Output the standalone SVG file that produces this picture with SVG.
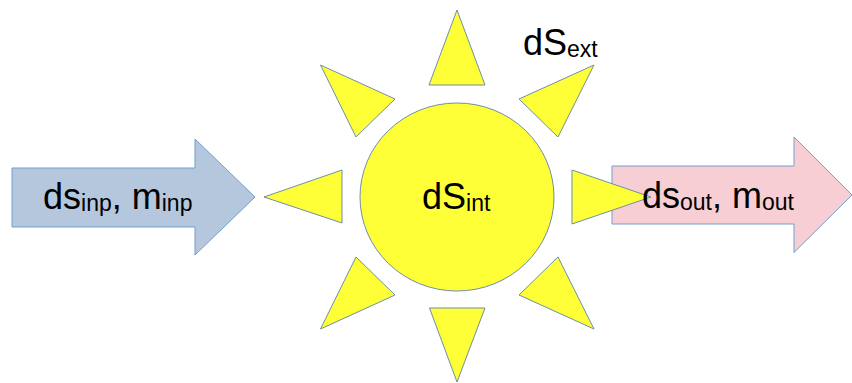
<svg xmlns="http://www.w3.org/2000/svg" width="852" height="383" viewBox="0 0 852 383">
<style>
.s{stroke:#729fcf;stroke-width:1;stroke-linejoin:miter}
.y{fill:#ffff38;stroke:#6d8fa8}
text{font-family:"Liberation Sans",Arial,sans-serif;font-size:36px;fill:#000}
.b{font-size:23px}
</style>
<rect width="852" height="383" fill="#fff"/>
<g id="arrow-inp"><polygon class="s" fill="#b4c7dc" points="12,168 195,168 195,139 255,197 195,255 195,227 12,227"/>
<text x="43" y="209">ds<tspan class="b" dy="2">inp</tspan><tspan dy="-2">, m</tspan><tspan class="b" dy="2">inp</tspan></text></g>
<g id="arrow-out"><polygon class="s" fill="#f7ced4" points="612,166 794,166 794,137 852,195 794,252.500 794,224 612,224"/></g>
<g id="sun">
<ellipse class="s y" cx="457" cy="197" rx="97" ry="94"/>
<polygon class="s y" points="457,10 485,85 429,85"/>
<polygon class="s y" points="320.500,65 395,99 356,137"/>
<polygon class="s y" points="594,65 519,99 558,137"/>
<polygon class="s y" points="264,197 342,170 342,223"/>
<polygon class="s y" points="651,197 572,170 572,224"/>
<polygon class="s y" points="356,257 395,295 320.500,329"/>
<polygon class="s y" points="558,257 519,295 594,329"/>
<polygon class="s y" points="429.500,308 485,308 457,382"/>
</g>
<g id="label-out"><text x="642" y="207.500">ds<tspan class="b" dy="2">out</tspan><tspan dy="-2">, m</tspan><tspan class="b" dy="2">out</tspan></text></g>
<g id="label-int"><text x="422" y="209">dS<tspan class="b" dy="2">int</tspan></text></g>
<g id="label-ext"><text x="523" y="55">dS<tspan class="b" dy="2">ext</tspan></text></g>
<g id="connectors"></g>
</svg>
